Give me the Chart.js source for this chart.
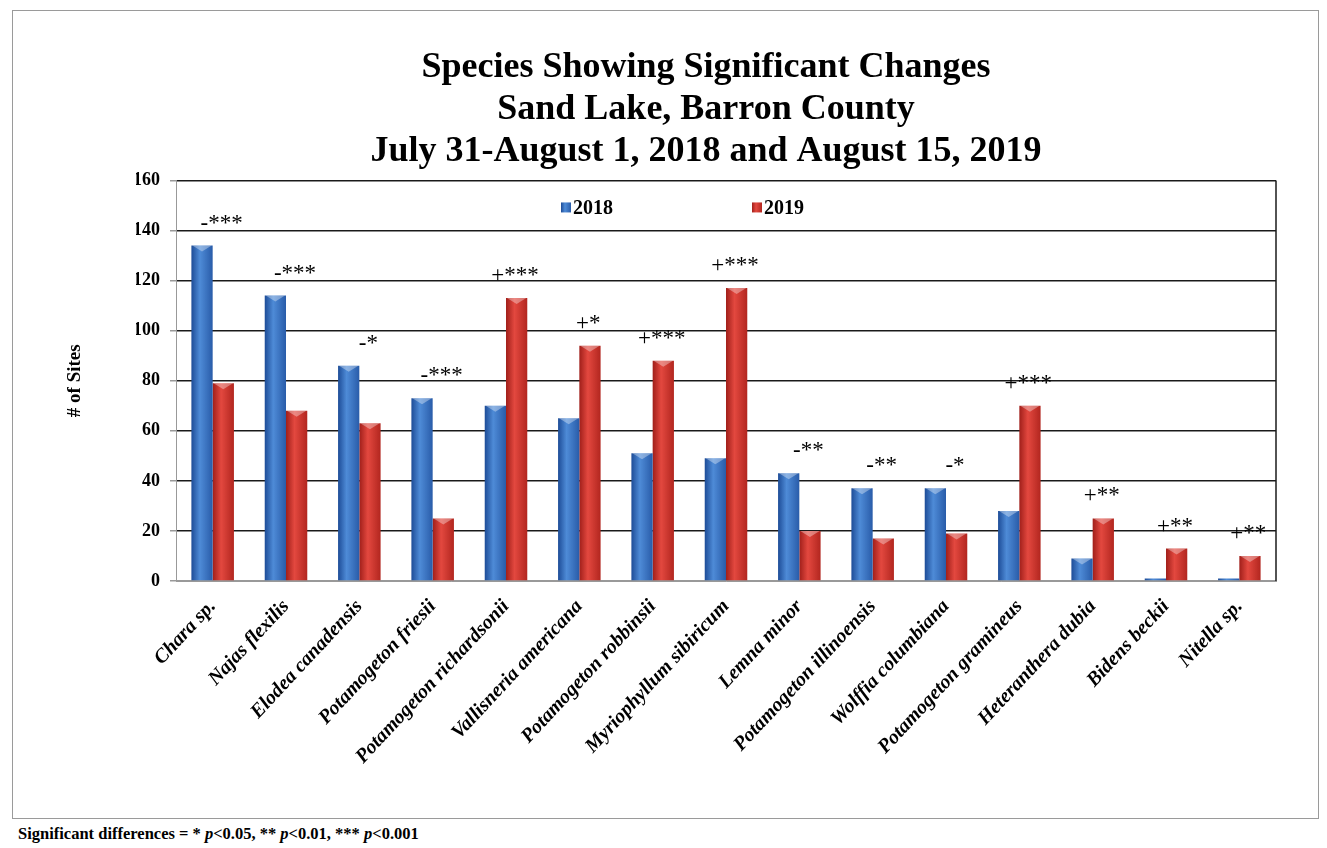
<!DOCTYPE html>
<html>
<head>
<meta charset="utf-8">
<script src="https://cdn.jsdelivr.net/npm/chart.js@4.4.1/dist/chart.umd.min.js"></script>
<style>
  html, body { margin: 0; background: #fff; }
  #frame { position: absolute; left: 12px; top: 10px; width: 1305px; height: 807px; border: 1px solid #9a9a9a; }
  #frame canvas { display: block; }
  #note { position: absolute; left: 18px; top: 824px; font: bold 16.5px "Liberation Serif", serif; color: #000; }
</style>
</head>
<body>
<div id="frame"><canvas id="chart" width="1305" height="807"></canvas></div>
<div id="note">Significant differences = * <i>p</i>&lt;0.05, ** <i>p</i>&lt;0.01, *** <i>p</i>&lt;0.001</div>
<script>
// species and number of sites per survey year
const species = [
    'Chara sp.', 'Najas flexilis', 'Elodea canadensis', 'Potamogeton friesii',
    'Potamogeton richardsonii', 'Vallisneria americana', 'Potamogeton robbinsii',
    'Myriophyllum sibiricum', 'Lemna minor', 'Potamogeton illinoensis',
    'Wolffia columbiana', 'Potamogeton gramineus', 'Heteranthera dubia',
    'Bidens beckii', 'Nitella sp.'
];
const sites2018 = [134, 114, 86, 73, 70, 65, 51, 49, 43, 37, 37, 28, 9, 1, 1];
const sites2019 = [79, 68, 63, 25, 113, 94, 88, 117, 20, 17, 19, 70, 25, 13, 10];
// direction of change and significance level
const change = ['-***', '-***', '-*', '-***', '+***', '+*', '+***', '+***', '-**', '-**', '-*', '+***', '+**', '+**', '+**'];
const yTicks = { min: 0, max: 160, step: 20 };

const SERIF = '"Liberation Serif", "Times New Roman", serif';
const CAT_PCT = 0.58;
const BLUE = ['#1d4c97', '#4e8bd7', '#295ca9'];
const RED = ['#a01f1a', '#e3483f', '#b2261f'];

function shade(ctx, left, w, c) {
    const g = ctx.createLinearGradient(left, 0, left + w, 0);
    g.addColorStop(0, c[0]);
    g.addColorStop(0.4, c[1]);
    g.addColorStop(1, c[2]);
    return g;
}

// cylinder-like fill computed from the bar's slot on the x scale
function barFill(colors) {
    return (context) => {
        const chart = context.chart;
        const xs = chart.scales.x;
        if (context.type !== 'data' || !xs || !xs.width) return colors[1];
        const barW = xs.width / species.length * CAT_PCT / 2;
        const left = xs.getPixelForValue(context.dataIndex) - barW + context.datasetIndex * barW;
        return shade(chart.ctx, left, barW, colors);
    };
}

const extras = {
    id: 'extras',
    afterDatasetsDraw(chart) {
        const { ctx, chartArea: area, scales: { x, y } } = chart;
        ctx.save();

        // light bevel on bar tops
        chart.data.datasets.forEach((ds, di) => {
            chart.getDatasetMeta(di).data.forEach((bar) => {
                const h = bar.base - bar.y;
                if (h < 4) return;
                const l = bar.x - bar.width / 2, r = bar.x + bar.width / 2;
                ctx.fillStyle = 'rgba(255,255,255,0.35)';
                ctx.beginPath();
                ctx.moveTo(l + 1, bar.y);
                ctx.lineTo(r - 1, bar.y);
                ctx.lineTo(bar.x, bar.y + Math.min(6, h));
                ctx.closePath();
                ctx.fill();
            });
        });

        // right edge of plot frame
        ctx.strokeStyle = '#1a1a1a';
        ctx.lineWidth = 1.5;
        ctx.beginPath();
        ctx.moveTo(area.right, area.top);
        ctx.lineTo(area.right, area.bottom);
        ctx.stroke();

        // significance marks above each pair
        ctx.fillStyle = '#000';
        ctx.font = '23px ' + SERIF;
        ctx.textAlign = 'center';
        ctx.textBaseline = 'middle';
        change.forEach((t, i) => {
            const top = y.getPixelForValue(Math.max(sites2018[i], sites2019[i]));
            ctx.fillText(t, x.getPixelForValue(i) + 9, top - 22);
        });

        // legend inside the plot
        const legendX = [385, 576];
        const ly = area.top + 27;
        ctx.font = 'bold 20px ' + SERIF;
        ctx.textAlign = 'left';
        chart.data.datasets.forEach((ds, di) => {
            const bx = area.left + legendX[di];
            ctx.fillStyle = shade(ctx, bx, 10, di === 0 ? BLUE : RED);
            ctx.fillRect(bx, ly - 5, 10, 10);
            ctx.fillStyle = '#000';
            ctx.fillText(ds.label, bx + 12, ly + 1);
        });
        ctx.restore();
    }
};

new Chart(document.getElementById('chart'), {
    type: 'bar',
    data: {
        labels: species,
        datasets: [
            { label: '2018', data: sites2018, backgroundColor: barFill(BLUE) },
            { label: '2019', data: sites2019, backgroundColor: barFill(RED) }
        ]
    },
    options: {
        responsive: false,
        animation: false,
        categoryPercentage: CAT_PCT,
        barPercentage: 1,
        layout: { padding: { left: 123, right: 42, top: 0, bottom: 0 } },
        plugins: {
            legend: { display: false },
            tooltip: { enabled: false },
            title: {
                display: true,
                text: [
                    'Species Showing Significant Changes',
                    'Sand Lake, Barron County',
                    'July 31-August 1, 2018 and August 15, 2019'
                ],
                color: '#000',
                font: { family: SERIF, size: 36, weight: 'bold', lineHeight: 1.18 },
                padding: { top: 35, bottom: 7 }
            }
        },
        scales: {
            x: {
                afterFit: (s) => { s.height = 237; },
                grid: { display: false },
                border: { color: '#999' },
                ticks: {
                    autoSkip: false,
                    minRotation: 47,
                    maxRotation: 47,
                    padding: 6,
                    color: '#000',
                    font: { family: SERIF, size: 20, weight: 'bold', style: 'italic' }
                }
            },
            y: {
                min: yTicks.min,
                max: yTicks.max,
                afterFit: (s) => { s.width = 40; },
                border: { color: '#999' },
                grid: {
                    color: (c) => (c.tick && c.tick.value === 0 ? '#999' : '#1a1a1a'),
                    lineWidth: 1.5,
                    tickLength: 6,
                    tickColor: '#999'
                },
                ticks: {
                    stepSize: yTicks.step,
                    padding: 10,
                    color: '#000',
                    font: { family: SERIF, size: 18, weight: 'bold' }
                },
                title: {
                    display: true,
                    text: '# of Sites',
                    color: '#000',
                    font: { family: SERIF, size: 19, weight: 'bold', lineHeight: 1.2 },
                    padding: { top: -72, bottom: 0 }
                }
            }
        }
    },
    plugins: [extras]
});
</script>
</body>
</html>
